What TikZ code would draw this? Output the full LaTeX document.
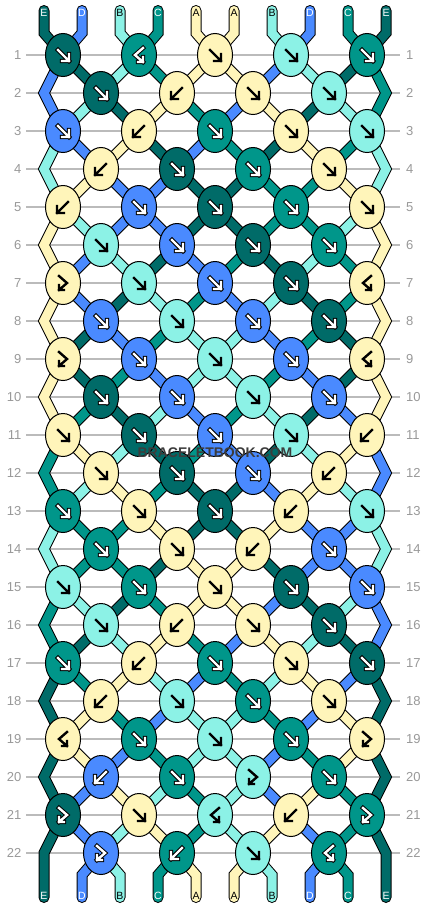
\documentclass[tikz,border=0pt]{standalone}
\usepackage{fontspec}
\setmainfont{Liberation Sans}
\definecolor{cA}{HTML}{FFF5BA}
\definecolor{cB}{HTML}{8CF2E6}
\definecolor{cC}{HTML}{00968A}
\definecolor{cD}{HTML}{4A8AFF}
\definecolor{cE}{HTML}{006B68}
\colorlet{aoA}{cA}\colorlet{aoB}{cB}\colorlet{aoC}{black}\colorlet{aoD}{black}\colorlet{aoE}{black}
\colorlet{aiA}{black}\colorlet{aiB}{black}\colorlet{aiC}{white}\colorlet{aiD}{white}\colorlet{aiE}{white}
\colorlet{tA}{black}\colorlet{tB}{black}\colorlet{tC}{white}\colorlet{tD}{white}\colorlet{tE}{white}
\definecolor{gridgray}{HTML}{BBBBBB}
\definecolor{labgray}{HTML}{999999}
\definecolor{wmark}{HTML}{3C3C3C}
\newcommand\kArrf[1]{\draw[#1] (-5,-5)--(6,6) (6,-1)--(6,6)--(-1,6);}
\newcommand\kArrb[1]{\draw[#1] (5,-5)--(-6,6) (-6,-1)--(-6,6)--(1,6);}
\newcommand\kArrfb[1]{\draw[#1] (-4,-7)--(4,0)--(-4,7) (-4,2)--(-4,7)--(1,7);}
\newcommand\kArrbf[1]{\draw[#1] (4,-7)--(-4,0)--(4,7) (4,2)--(4,7)--(-1,7);}
\tikzset{
  seg/.style={draw=black, line width=1pt, double distance=9pt},
  stub/.style={draw=black, line width=1pt, double distance=9pt, line cap=round},
  gridline/.style={draw=gridgray, line width=1.2pt},
  rowlab/.style={text=labgray, inner sep=0pt, font=\fontsize{13}{13}\selectfont},
  strlab/.style={inner sep=0pt, font=\fontsize{10.5}{10.5}\selectfont},
  wm/.style={inner sep=0pt, font=\fontsize{14}{14}\selectfont\bfseries},
}
\begin{document}
\begin{tikzpicture}[x=1pt,y=-1pt]
\fill[white] (0,0) rectangle (430,908);
\useasboundingbox (0,0) rectangle (430,908);
% grid lines and row labels
\foreach \rr in {1,...,22} {
  \pgfmathsetmacro\yy{55+38*(\rr-1)}
  \draw[gridline] (26,\yy) -- (400,\yy);
  \node[rowlab, anchor=east] (ll-\rr) at (21.5,\yy) {\rr};
  \node[rowlab, anchor=west] (rl-\rr) at (406,\yy) {\rr};
}
% string segments between knots
\foreach \rr/\st in {
 1/{D,E,B,C,A,A,D,B,E,C},
 2/{D,B,E,A,C,D,A,E,B,C},
 3/{B,D,A,E,D,C,E,A,C,B},
 4/{B,A,D,D,E,E,C,C,A,B},
 5/{A,B,D,D,E,E,C,C,B,A},
 6/{A,D,B,E,D,C,E,B,C,A},
 7/{A,D,E,B,C,D,B,E,C,A},
 8/{A,E,D,C,B,B,D,C,E,A},
 9/{A,E,C,D,B,B,C,D,E,A},
 10/{A,C,E,B,D,C,B,E,D,A},
 11/{C,A,B,E,C,D,E,B,A,D},
 12/{C,B,A,C,E,E,D,A,B,D},
 13/{B,C,C,A,E,E,A,D,D,B},
 14/{B,C,C,E,A,A,E,D,D,B},
 15/{C,B,E,C,A,A,D,E,B,D},
 16/{C,E,B,A,C,D,A,B,E,D},
 17/{E,C,A,B,D,C,B,A,D,E},
 18/{E,A,C,D,B,B,C,D,A,E},
 19/{E,A,D,C,B,B,D,C,A,E},
 20/{E,D,A,B,C,B,D,A,C,E},
 21/{E,D,B,A,C,B,A,D,C,E}} {
  \foreach \col [count=\kk from 0] in \st {
    \ifnum\kk>0 \ifnum\kk<9
      \pgfmathsetmacro\xo{63+76*int(\kk/2)}
      \pgfmathsetmacro\xe{101+76*int((\kk-1)/2)}
      \pgfmathsetmacro\yy{55+38*(\rr-1)}
      \pgfmathsetmacro\yn{\yy+38}
      \ifodd\rr
        \draw[seg, double=c\col] (\xo,\yy) -- (\xe,\yn);
      \else
        \draw[seg, double=c\col] (\xe,\yy) -- (\xo,\yn);
      \fi
    \fi\fi
  }
}
% edge strings
\foreach \rr/\lc/\rc in {2/D/C,4/B/B,6/A/A,8/A/A,10/A/A,12/C/D,14/B/B,16/C/D,18/E/E,20/E/E} {
  \pgfmathsetmacro\yy{55+38*(\rr-1)}
  \draw[stub, double=c\lc] (63,\yy-38) -- (44,\yy) -- (63,\yy+38);
  \draw[stub, double=c\rc] (367,\yy-38) -- (386,\yy) -- (367,\yy+38);
}
\draw[stub, double=cE] (63,815) -- (44,853) -- (44,897.5);
\draw[stub, double=cE] (367,815) -- (386,853) -- (386,897.5);
% top stubs
\foreach \col [count=\kk from 0] in {E,D,B,C,A,A,B,D,C,E} {
  \pgfmathsetmacro\xs{44+38*\kk}
  \pgfmathsetmacro\xo{63+76*int(\kk/2)}
  \draw[stub, double=c\col] (\xs,10.5) -- (\xs,33) -- (\xo,55);
}
% bottom stubs
\foreach \col [count=\kk from 0] in {E,D,B,C,A,A,B,D,C,E} {
  \ifnum\kk>0 \ifnum\kk<9
    \pgfmathsetmacro\xs{44+38*\kk}
    \pgfmathsetmacro\xe{101+76*int((\kk-1)/2)}
    \draw[stub, double=c\col] (\xe,853) -- (\xs,875) -- (\xs,897.5);
  \fi\fi
}
% knots
\foreach \rr/\kl in {
 1/{0/f/E,2/bf/C,4/f/A,6/f/B,8/f/C},
 2/{1/f/E,3/b/A,5/f/A,7/f/B},
 3/{0/f/D,2/b/A,4/f/C,6/f/A,8/f/B},
 4/{1/b/A,3/f/E,5/f/C,7/f/A},
 5/{0/b/A,2/f/D,4/f/E,6/f/C,8/f/A},
 6/{1/f/B,3/f/D,5/f/E,7/f/C},
 7/{0/fb/A,2/f/B,4/f/D,6/f/E,8/bf/A},
 8/{1/f/D,3/f/B,5/f/D,7/f/E},
 9/{0/fb/A,2/f/D,4/f/B,6/f/D,8/bf/A},
 10/{1/f/E,3/f/D,5/f/B,7/f/D},
 11/{0/f/A,2/f/E,4/f/D,6/f/B,8/b/A},
 12/{1/f/A,3/f/E,5/f/D,7/b/A},
 13/{0/f/C,2/f/A,4/f/E,6/b/A,8/f/B},
 14/{1/f/C,3/f/A,5/b/A,7/f/D},
 15/{0/f/B,2/f/C,4/f/A,6/f/E,8/f/D},
 16/{1/f/B,3/b/A,5/f/A,7/f/E},
 17/{0/f/C,2/b/A,4/f/C,6/f/A,8/f/E},
 18/{1/b/A,3/f/B,5/f/C,7/f/A},
 19/{0/bf/A,2/f/C,4/f/B,6/f/C,8/fb/A},
 20/{1/b/D,3/f/C,5/fb/B,7/f/C},
 21/{0/fb/E,2/f/A,4/bf/B,6/b/A,8/fb/C},
 22/{1/fb/D,3/b/C,5/f/B,7/bf/C}} {
  \foreach \pp/\ty/\col in \kl {
    \pgfmathsetmacro\xx{63+38*\pp}
    \pgfmathsetmacro\yy{55+38*(\rr-1)}
    \begin{scope}[shift={(\xx,\yy)}]
      \filldraw[fill=c\col, draw=black, line width=1pt] (0,0) ellipse [x radius=17.5, y radius=21.5];
      \csname kArr\ty\endcsname{color=ao\col, line width=4.4pt, line cap=rect}
      \csname kArr\ty\endcsname{color=ai\col, line width=2.4pt, line cap=rect}
    \end{scope}
  }
}
% string labels
\foreach \col [count=\kk from 0] in {E,D,B,C,A,A,B,D,C,E} {
  \pgfmathsetmacro\xs{44+38*\kk}
  \node[strlab, text=t\col] (top-\kk) at (\xs,12.5) {\col};
  \node[strlab, text=t\col] (bot-\kk) at (\xs,896) {\col};
}
% watermark
\node[wm, text=wmark] (wmk) at (215,453) {BRACELETBOOK.COM};
\end{tikzpicture}
\end{document}
